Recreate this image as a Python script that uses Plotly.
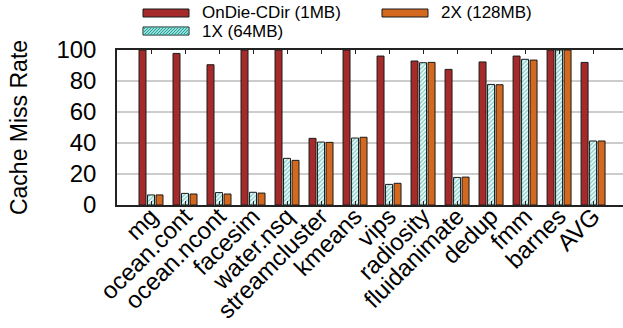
import plotly.graph_objects as go

categories = ["mg", "ocean.cont", "ocean.ncont", "facesim", "water.nsq", "streamcluster",
              "kmeans", "vips", "radiosity", "fluidanimate", "dedup", "fmm", "barnes", "AVG"]
ondie = [100, 97.8, 90.5, 100, 100, 43.0, 100, 96.1, 92.9, 87.5, 92.3, 96.1, 100, 92.0]
x1 = [6.5, 7.5, 8.0, 8.2, 30.1, 40.6, 43.2, 13.3, 91.8, 17.8, 77.8, 94.0, 100, 41.3]
x2 = [6.5, 7.1, 7.1, 7.7, 28.8, 40.4, 43.7, 14.0, 92.0, 18.0, 77.6, 93.5, 100, 41.3]
yticks = [0, 20, 40, 60, 80, 100]
series_names = ["OnDie-CDir (1MB)", "1X (64MB)", "2X (128MB)"]

FONT = "Liberation Sans, Arial, sans-serif"
RED, TEAL, ORANGE = "#a52a2a", "#1aa89e", "#d2691e"
EDGE = "#1a1a1a"

W, H = 623, 328
ML, MR, MT, MB = 117, 0, 50, 123
PW, PH = W - ML - MR, H - MT - MB

fig = go.Figure()
fig.add_trace(go.Bar(x=categories, y=ondie, name=series_names[0],
                     marker=dict(color=RED, line=dict(color=EDGE, width=1))))
fig.add_trace(go.Bar(x=categories, y=x1, name=series_names[1],
                     marker=dict(color="white", line=dict(color=EDGE, width=1),
                                 pattern=dict(shape="/", fgcolor=TEAL, bgcolor="white",
                                              size=3, solidity=0.55))))
fig.add_trace(go.Bar(x=categories, y=x2, name=series_names[2],
                     marker=dict(color=ORANGE, line=dict(color=EDGE, width=1))))


def px2paper(px, py):
    return (px - ML) / PW, (H - MB - py) / PH


# custom legend (gnuplot style: wide flat swatches, 2 columns)
legend_items = [
    (series_names[0], 143, 9, RED, False),
    (series_names[1], 143, 27, "white", True),
    (series_names[2], 382, 9, ORANGE, False),
]
shapes = []
annotations = []
for name, sx, sy, col, hatched in legend_items:
    sw, sh = 46, 8
    x0, y1 = px2paper(sx, sy)
    x1p, y0 = px2paper(sx + sw, sy + sh)
    shapes.append(dict(type="rect", xref="paper", yref="paper", x0=x0, x1=x1p, y0=y0, y1=y1,
                       fillcolor=col, line=dict(color=EDGE, width=1), layer="above"))
    if hatched:
        segs = []
        step = 3
        for k in range(-sh, sw, step):
            ax, ay = sx + k, sy + sh
            bx, by = sx + k + sh, sy
            if ax < sx:
                ay = sy + sh - (sx - ax)
                ax = sx
            if bx > sx + sw:
                by = sy + (bx - (sx + sw))
                bx = sx + sw
            if ax >= bx:
                continue
            pa = px2paper(ax, ay)
            pb = px2paper(bx, by)
            segs.append(f"M{pa[0]:.5f},{pa[1]:.5f} L{pb[0]:.5f},{pb[1]:.5f}")
        shapes.append(dict(type="path", xref="paper", yref="paper", path=" ".join(segs),
                           line=dict(color=TEAL, width=1.2), layer="above"))
    tx, ty = px2paper(sx + 57, sy + sh / 2)
    annotations.append(dict(text=name, xref="paper", yref="paper", x=tx, y=ty,
                            xanchor="left", yanchor="middle", showarrow=False,
                            font=dict(size=17, family=FONT, color="black")))

fig.update_layout(
    width=W, height=H,
    margin=dict(l=ML, r=MR, t=MT, b=MB, autoexpand=False),
    paper_bgcolor="white", plot_bgcolor="white",
    barmode="group", bargap=0.25, bargroupgap=0.18,
    font=dict(family=FONT, color="black"),
    showlegend=False,
    shapes=shapes, annotations=annotations,
    xaxis=dict(range=[-1, 13.88], tickangle=-45, tickfont=dict(size=24, family=FONT),
               showline=True, linecolor="#222", linewidth=1.5, mirror="ticks",
               ticks="inside", ticklen=4, tickcolor="#222", showgrid=False,
               ticklabelshift=0, ticklabelstandoff=-14),
    yaxis=dict(range=[0, 100], tickvals=yticks, tickfont=dict(size=24, family=FONT),
               title=dict(text="Cache Miss Rate", font=dict(size=23, family=FONT), standoff=22),
               showline=True, linecolor="#222", linewidth=1.5, mirror=True,
               showgrid=True, gridcolor="#cccccc", gridwidth=1.5, zeroline=False,
               ticks="", ticklabelstandoff=14),
)

fig.write_html("out.html")
